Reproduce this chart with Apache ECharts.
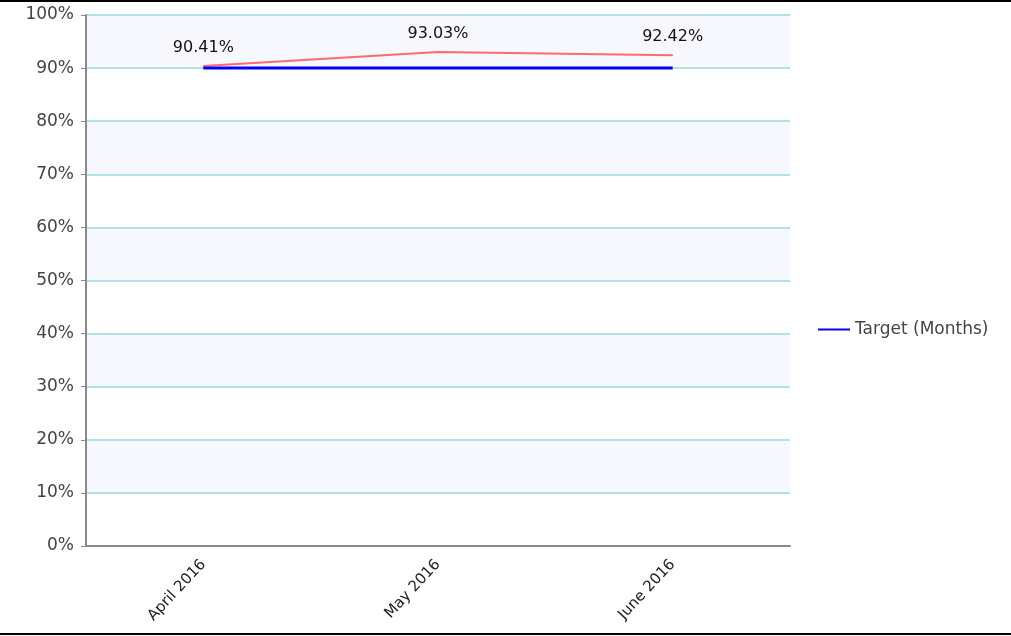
<!DOCTYPE html>
<html>
<head>
<meta charset="utf-8">
<style>
  html, body { margin: 0; padding: 0; background: #fff; }
  #chart { width: 1011px; height: 636px; }
</style>
<script src="https://cdn.jsdelivr.net/npm/echarts@6/dist/echarts.min.js"></script>
</head>
<body>
<div id="chart"></div>
<script>
// Monthly performance against the 90% target
const months = ['April 2016', 'May 2016', 'June 2016'];
const actualValues = [90.41, 93.03, 92.42];
const targetValues = [90, 90, 90];
const yTicks = [0, 100, 10]; // min, max, step (percent)

const chart = echarts.init(document.getElementById('chart'));
const font = 'DejaVu Sans, Verdana, Tahoma, sans-serif';

chart.setOption({
  animation: false,
  backgroundColor: '#fff',
  grid: { left: 86, right: 221, top: 15, bottom: 90 },
  legend: {
    data: ['Target (Months)'],
    orient: 'vertical',
    left: 813,
    top: 316,
    itemWidth: 32,
    itemHeight: 2,
    itemGap: 6,
    icon: 'rect',
    textStyle: { fontFamily: font, fontSize: 17, color: '#444' }
  },
  xAxis: {
    type: 'category',
    data: months,
    boundaryGap: true,
    axisLine: { lineStyle: { color: '#8a8a8a', width: 2 } },
    axisTick: { alignWithLabel: true, length: 5, lineStyle: { color: '#8a8a8a' } },
    axisLabel: {
      rotate: 47,
      margin: 16,
      fontFamily: font,
      fontSize: 15,
      color: '#222'
    },
    splitLine: { show: false }
  },
  yAxis: {
    type: 'value',
    min: yTicks[0],
    max: yTicks[1],
    interval: yTicks[2],
    axisLine: { show: true, lineStyle: { color: '#8a8a8a', width: 2 } },
    axisTick: { show: true, length: 5, lineStyle: { color: '#8a8a8a' } },
    axisLabel: {
      formatter: '{value}%',
      margin: 12,
      fontFamily: font,
      fontSize: 17,
      color: '#444'
    },
    splitLine: { show: true, lineStyle: { color: '#b4e1e8', width: 2 } },
    splitArea: { show: true, areaStyle: { color: ['#ffffff', '#f7f8fd'] } }
  },
  series: [
    {
      name: 'Actual',
      type: 'line',
      data: actualValues,
      symbol: 'circle',
      symbolSize: 1,
      showSymbol: true,
      lineStyle: { color: '#ff6b6b', width: 2 },
      itemStyle: { color: '#ff6b6b' },
      label: {
        show: true,
        position: 'top',
        distance: 10,
        formatter: p => p.value.toFixed(2) + '%',
        fontFamily: font,
        fontSize: 16,
        color: '#111'
      },
      z: 3
    },
    {
      name: 'Target (Months)',
      type: 'line',
      data: targetValues,
      symbol: 'none',
      lineStyle: { color: '#0000ff', width: 3 },
      itemStyle: { color: '#0000ff' },
      z: 4
    }
  ],
  graphic: [
    { type: 'rect', shape: { x: 0, y: 0, width: 1011, height: 2 }, style: { fill: '#000' } },
    { type: 'rect', shape: { x: 0, y: 633, width: 1011, height: 2 }, style: { fill: '#000' } }
  ]
});
</script>
</body>
</html>
